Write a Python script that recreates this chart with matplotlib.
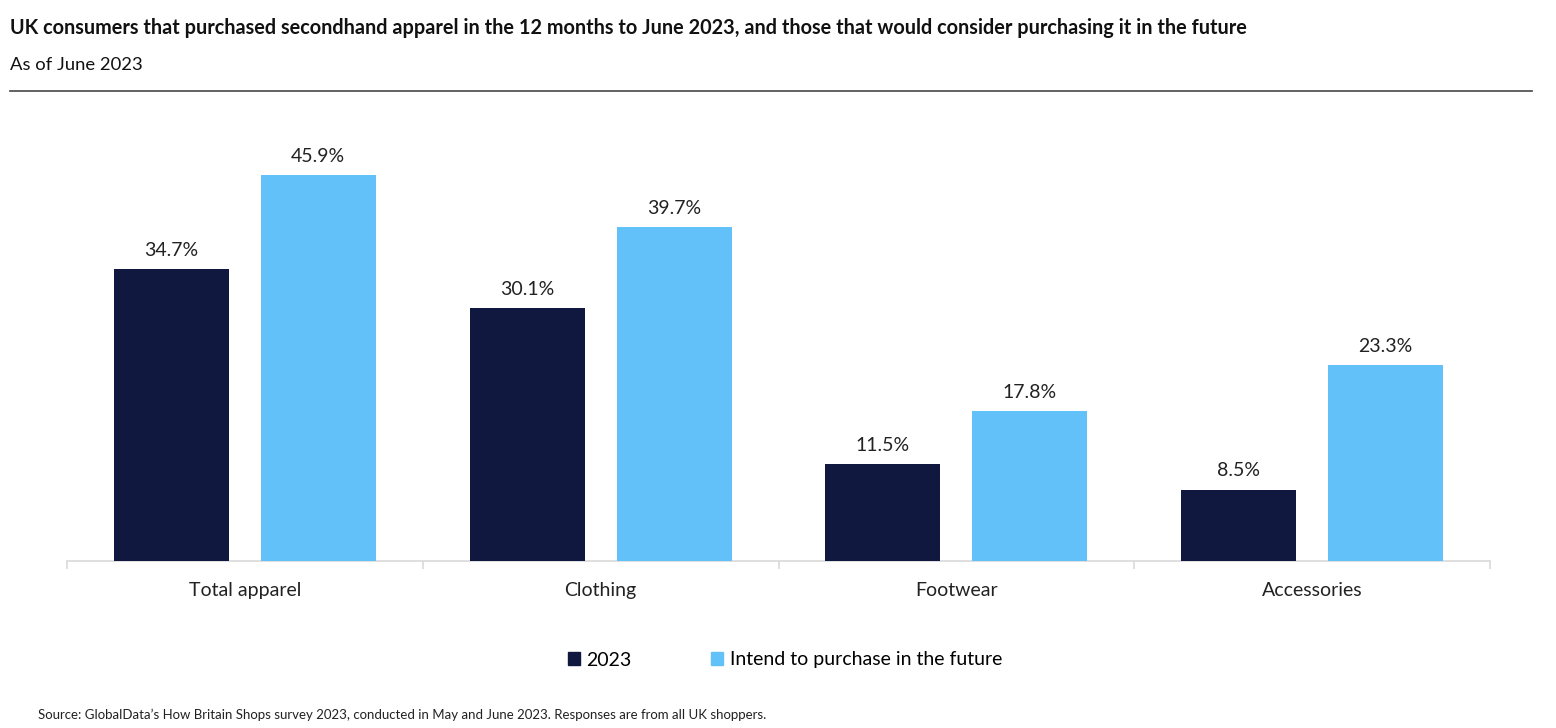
import matplotlib
matplotlib.use("Agg")
import matplotlib.pyplot as plt
import numpy as np
from matplotlib.lines import Line2D
from matplotlib.patches import Patch

categories = ["Total apparel", "Clothing", "Footwear", "Accessories"]
series_2023 = [34.7, 30.1, 11.5, 8.5]
series_future = [45.9, 39.7, 17.8, 23.3]
series_names = ["2023", "Intend to purchase in the future"]

title = "UK consumers that purchased secondhand apparel in the 12 months to June 2023, and those that would consider purchasing it in the future"
subtitle = "As of June 2023"
source = "Source: GlobalData\u2019s How Britain Shops survey 2023, conducted in May and June 2023. Responses are from all UK shoppers."

DARK = "#101840"
LIGHT = "#63C1FA"
plt.rcParams['font.family'] = ['Lato', 'DejaVu Sans']

W, H = 1556, 728
fig = plt.figure(figsize=(W / 100, H / 100), dpi=100)

ymax = 55
px_per_unit = 386 / 45.9
ax_h = ymax * px_per_unit
ax = fig.add_axes([67 / W, (H - 561) / H, (1490 - 67) / W, ax_h / H])

x = np.arange(len(categories))
bw = 115 / 356
off = 73.5 / 356
b1 = ax.bar(x - off, series_2023, bw, color=DARK, zorder=3)
b2 = ax.bar(x + off, series_future, bw, color=LIGHT, zorder=3)

for bars, vals in ((b1, series_2023), (b2, series_future)):
    for r, v in zip(bars, vals):
        ax.text(r.get_x() + r.get_width() / 2, v + 1.2, f"{v:.1f}%",
                ha="center", va="bottom", fontsize=14, color="#222222")

ax.set_xlim(-0.5, len(categories) - 0.5)
ax.set_ylim(0, ymax)
for s in ("top", "right", "left"):
    ax.spines[s].set_visible(False)
ax.spines["bottom"].set_color("#D9D9D9")
ax.spines["bottom"].set_linewidth(1.2)
ax.set_yticks([])
ax.set_xticks(x)
ax.set_xticklabels(categories, fontsize=14, color="#222222")
ax.tick_params(axis="x", length=0, pad=15)
ax.set_xticks(np.arange(len(categories) + 1) - 0.5, minor=True)
ax.tick_params(axis="x", which="minor", length=6, color="#D9D9D9", width=1.2)

fig.text(10 / W, 1 - 28 / H, title, fontsize=14.3, fontweight="bold", color="#111111", va="center", ha="left")
fig.text(10 / W, 1 - 65 / H, subtitle, fontsize=13.3, color="#111111", va="center", ha="left")
fig.add_artist(Line2D([10 / W, 1532 / W], [1 - 91 / H, 1 - 91 / H], color="#555555", linewidth=1.3))

handles = [Patch(color=DARK), Patch(color=LIGHT)]
fig.legend(handles, series_names, loc="center", bbox_to_anchor=(785 / W, 1 - 660 / H),
           ncol=2, frameon=False, fontsize=14, handlelength=0.6, handleheight=0.6,
           handletextpad=0.35, columnspacing=4.1)

fig.text(38 / W, 1 - 715 / H, source, fontsize=9.5, color="#222222", va="center", ha="left")

fig.savefig("out.png", dpi=100)
